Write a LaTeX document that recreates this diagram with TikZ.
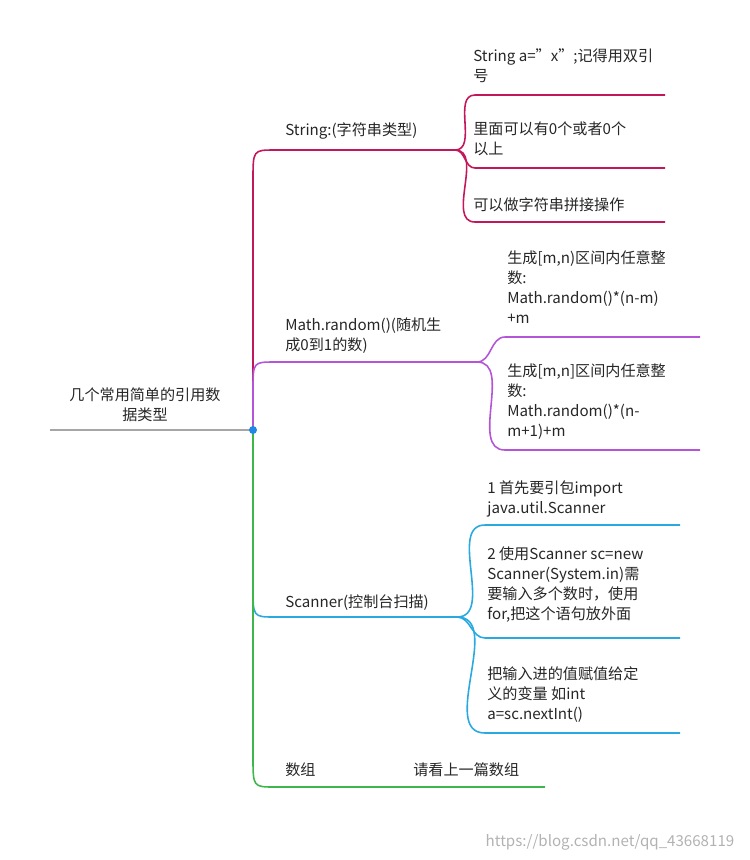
\documentclass[tikz,border=0pt]{standalone}
\usepackage{fontspec}
\setmainfont{Noto Sans CJK SC}
\usetikzlibrary{positioning}
\definecolor{cred}{HTML}{C2185B}
\definecolor{cpur}{HTML}{B455D8}
\definecolor{cblue}{HTML}{29A9E0}
\definecolor{cgreen}{HTML}{3DB64A}
\begin{document}
\begin{tikzpicture}[x=0.02cm,y=-0.02cm,inner sep=0pt,
  txt/.style={anchor=north west,align=left,font=\fontsize{8.6}{11.5}\selectfont,text=black!85},
  br/.style={line width=0.9pt}]
	\useasboundingbox (0,0) rectangle (750,860);
	% root
	\coordinate (R) at (253,430);
	\node[txt,anchor=center,align=center] (root) at (145,405) {几个常用简单的引用数\\据类型};
	\draw[gray!70,line width=0.8pt] (50,430) -- (R);

	% String
	\coordinate (S0) at (275,150); \coordinate (S1) at (455,150);
	\node[txt] (s) at (285,122) {String:(字符串类型)};
	\draw[br,cred] (R) -- (253,180) .. controls (253,150) .. (S0) -- (S1);
	\node[txt] (s1) at (473,48) {String a={\char34}x{\char34};记得用双引\\号};
	\node[txt] (s2) at (473,121) {里面可以有0个或者0个\\以上};
	\node[txt] (s3) at (473,197) {可以做字符串拼接操作};
	\foreach \y/\n in {95/a,168/b,222/c}{
		\coordinate (S\n) at (665,\y);
		\draw[br,cred] (S1) to[out=0,in=180] (475,\y) -- (S\n);}

	% Math
	\coordinate (M0) at (275,362); \coordinate (M1) at (477,362);
	\node[txt] (m) at (285,317) {Math.random()(随机生\\成0到1的数)};
	\draw[br,cpur] (R) -- (253,390) .. controls (253,362) .. (M0) -- (M1);
	\node[txt] (m1) at (507,250) {生成[m,n)区间内任意整\\数:\\Math.random()*(n-m)\\+m};
	\node[txt] (m2) at (507,363) {生成[m,n]区间内任意整\\数:\\Math.random()*(n-\\m+1)+m};
	\foreach \y/\n in {337/a,450/b}{
		\coordinate (M\n) at (700,\y);
		\draw[br,cpur] (M1) to[out=0,in=180] (505,\y) -- (M\n);}

	% Scanner
	\coordinate (C0) at (275,617); \coordinate (C1) at (457,617);
	\node[txt] (c) at (285,594) {Scanner(控制台扫描)};
	\draw[br,cblue] (R) -- (253,587) .. controls (253,617) .. (C0) -- (C1);
	\node[txt] (c1) at (487,480) {1 首先要引包import\\java.util.Scanner};
	\node[txt] (c2) at (487,546) {2 使用Scanner sc=new\\Scanner(System.in)需\\要输入多个数时，使用\\for,把这个语句放外面};
	\node[txt] (c3) at (487,666) {把输入进的值赋值给定\\义的变量 如int\\a=sc.nextInt()};
	\foreach \y/\n in {525/a,638/b,733/c}{
		\coordinate (C\n) at (680,\y);
		\draw[br,cblue] (C1) to[out=0,in=180] (485,\y) -- (C\n);}

	% 数组
	\coordinate (A0) at (275,787); \coordinate (A1) at (545,787);
	\node[txt] (a) at (285,762) {数组};
	\node[txt] (a1) at (413,762) {请看上一篇数组};
	\draw[br,cgreen] (R) -- (253,757) .. controls (253,787) .. (A0) -- (A1);

	\fill[cblue!80!blue] (R) circle (4);
	\node[txt,anchor=center,text=gray!60] (wm) at (610,842) {https://blog.csdn.net/qq\_43668119};
\end{tikzpicture}
\end{document}
